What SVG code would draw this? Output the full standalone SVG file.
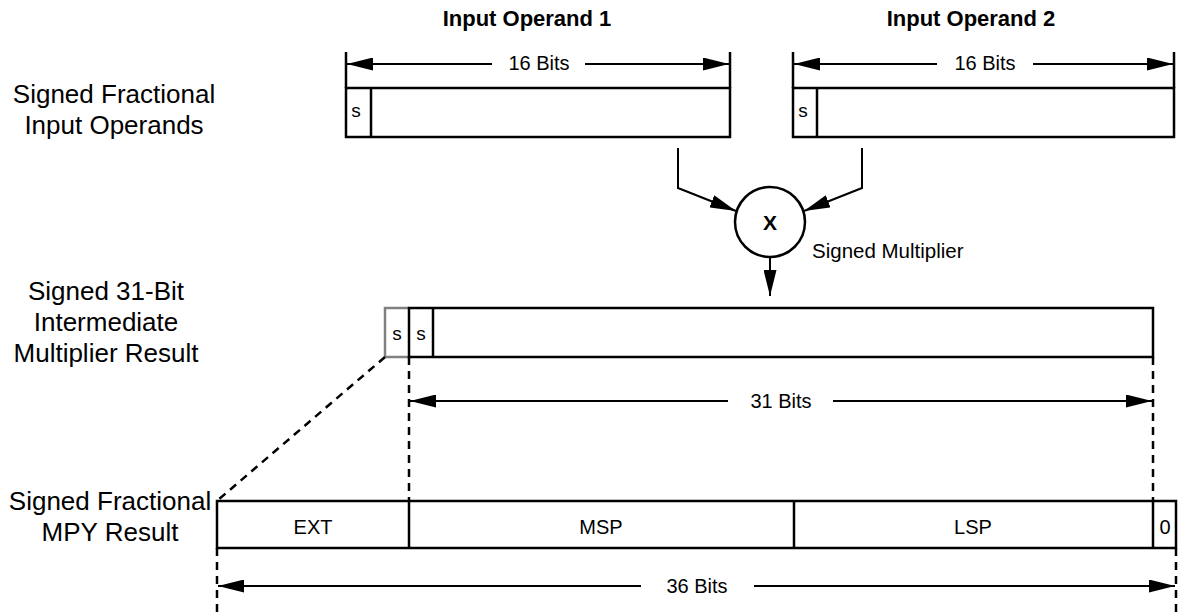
<svg xmlns="http://www.w3.org/2000/svg" width="1178" height="614" viewBox="0 0 1178 614">
<defs>
<marker id="ah" viewBox="0 0 26 13" refX="26" refY="6.5" markerWidth="26" markerHeight="13" markerUnits="userSpaceOnUse" orient="auto">
<path d="M0,0 L26,6.5 L0,13 z" fill="#000"/>
</marker>
</defs>
<style>
.box{fill:#fff;stroke:#000;stroke-width:2.5}
.ln{fill:none;stroke:#000;stroke-width:2.5}
.arr{fill:none;stroke:#000;stroke-width:2;marker-end:url(#ah)}
.dash{fill:none;stroke:#000;stroke-width:2.5;stroke-dasharray:8 6}
.lbl{font-family:"Liberation Sans",Arial,sans-serif;font-size:26px;fill:#000;text-anchor:middle}
.sm{font-family:"Liberation Sans",Arial,sans-serif;font-size:20px;fill:#000;text-anchor:middle}
.bit{font-family:"Liberation Sans",Arial,sans-serif;font-size:19px;fill:#000;text-anchor:middle}
.ttl{font-family:"Liberation Sans",Arial,sans-serif;font-size:22px;font-weight:bold;fill:#000;text-anchor:middle}
</style>
<rect width="1178" height="614" fill="#fff"/>

<g id="labels">
<text class="lbl" x="114" y="103">Signed Fractional</text>
<text class="lbl" x="114" y="134">Input Operands</text>
<text class="lbl" x="106" y="300">Signed 31-Bit</text>
<text class="lbl" x="106" y="331">Intermediate</text>
<text class="lbl" x="106" y="362">Multiplier Result</text>
<text class="lbl" x="110" y="510">Signed Fractional</text>
<text class="lbl" x="110" y="541">MPY Result</text>
</g>

<g id="operand1">
<text class="ttl" x="527" y="26">Input Operand 1</text>
<rect class="box" x="346" y="88" width="384" height="49"/>
<line class="ln" x1="371" y1="88" x2="371" y2="137"/>
<line class="ln" x1="346" y1="52" x2="346" y2="88"/>
<line class="ln" x1="730" y1="52" x2="730" y2="88"/>
<text class="bit" x="356" y="117">s</text>
<text class="sm" x="539" y="70">16 Bits</text>
</g>

<g id="operand2">
<text class="ttl" x="971" y="26">Input Operand 2</text>
<rect class="box" x="793" y="88" width="381" height="49"/>
<line class="ln" x1="817" y1="88" x2="817" y2="137"/>
<line class="ln" x1="793" y1="52" x2="793" y2="88"/>
<line class="ln" x1="1174" y1="52" x2="1174" y2="88"/>
<text class="bit" x="803" y="117">s</text>
<text class="sm" x="985" y="70">16 Bits</text>
</g>

<g id="multiplier">
<circle cx="770" cy="222" r="35" fill="#fff" stroke="#000" stroke-width="2.5"/>
<text x="770" y="230" font-family="Liberation Sans, Arial, sans-serif" font-size="21" font-weight="bold" text-anchor="middle">X</text>
<text x="812" y="258" font-family="Liberation Sans, Arial, sans-serif" font-size="20.5">Signed Multiplier</text>
</g>

<g id="intermediate">
<path d="M409,308 H385 V357 H409" fill="#fff" stroke="#808080" stroke-width="2.5"/>
<rect class="box" x="409" y="308" width="744" height="49"/>
<line class="ln" x1="433" y1="308" x2="433" y2="357"/>
<text class="bit" x="397" y="340">s</text>
<text class="bit" x="421" y="340">s</text>
<text class="sm" x="781" y="408">31 Bits</text>
</g>

<g id="mpy-result">
<rect class="box" x="217" y="501" width="959" height="47"/>
<line class="ln" x1="409" y1="501" x2="409" y2="548"/>
<line class="ln" x1="794" y1="501" x2="794" y2="548"/>
<line class="ln" x1="1153" y1="501" x2="1153" y2="548"/>
<text class="sm" x="313" y="534">EXT</text>
<text class="sm" x="601" y="534">MSP</text>
<text class="sm" x="973" y="534">LSP</text>
<text class="sm" x="1165" y="534">0</text>
<text class="sm" x="697" y="593">36 Bits</text>
</g>

<g id="connectors">
<line class="arr" x1="492" y1="64" x2="347" y2="64"/>
<line class="arr" x1="585" y1="64" x2="729" y2="64"/>
<line class="arr" x1="937" y1="64" x2="794" y2="64"/>
<line class="arr" x1="1033" y1="64" x2="1173" y2="64"/>
<polyline class="arr" points="678,148 678,188 736,211"/>
<polyline class="arr" points="862,148 862,188 804,211"/>
<line class="arr" x1="770" y1="257" x2="770" y2="296"/>
<line class="dash" x1="409" y1="357" x2="409" y2="501"/>
<line class="dash" x1="1153" y1="357" x2="1153" y2="501"/>
<line class="dash" x1="385" y1="357" x2="218" y2="500"/>
<line class="dash" x1="217" y1="548" x2="217" y2="614"/>
<line class="dash" x1="1176" y1="548" x2="1176" y2="614"/>
<line class="arr" x1="728" y1="401" x2="410" y2="401"/>
<line class="arr" x1="833" y1="401" x2="1152" y2="401"/>
<line class="arr" x1="641" y1="586" x2="218" y2="586"/>
<line class="arr" x1="754" y1="586" x2="1175" y2="586"/>
</g>
</svg>
